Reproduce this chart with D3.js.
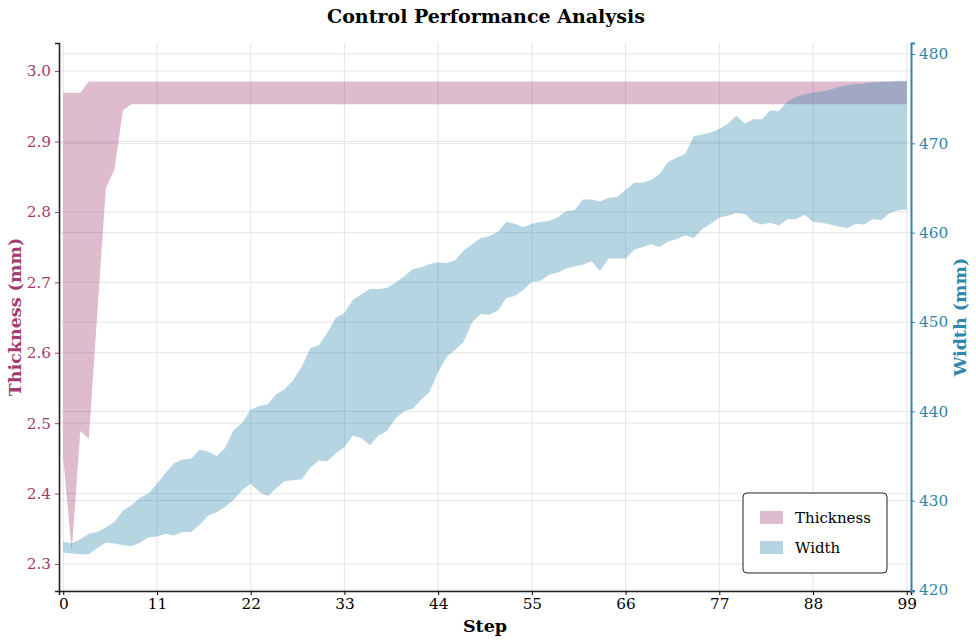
<!DOCTYPE html>
<html>
<head>
<meta charset="utf-8">
<script src="https://cdn.jsdelivr.net/npm/d3@7"></script>
<style>
  html, body { margin: 0; padding: 0; background: #fff; }
  svg { display: block; font-family: "DejaVu Serif", serif; }
</style>
</head>
<body>
<div id="chart"></div>
<script>
// values
var steps = d3.range(100);

var thicknessLow = [
  2.45, 2.318, 2.489, 2.478, 2.657, 2.834, 2.86, 2.944, 2.953, 2.953,
  2.953, 2.953, 2.953, 2.953, 2.953, 2.953, 2.953, 2.953, 2.953, 2.953,
  2.953, 2.953, 2.953, 2.953, 2.953, 2.953, 2.953, 2.953, 2.953, 2.953,
  2.953, 2.953, 2.953, 2.953, 2.953, 2.953, 2.953, 2.953, 2.953, 2.953,
  2.953, 2.953, 2.953, 2.953, 2.953, 2.953, 2.953, 2.953, 2.953, 2.953,
  2.953, 2.953, 2.953, 2.953, 2.953, 2.953, 2.953, 2.953, 2.953, 2.953,
  2.953, 2.953, 2.953, 2.953, 2.953, 2.953, 2.953, 2.953, 2.953, 2.953,
  2.953, 2.953, 2.953, 2.953, 2.953, 2.953, 2.953, 2.953, 2.953, 2.953,
  2.953, 2.953, 2.953, 2.953, 2.953, 2.953, 2.953, 2.953, 2.953, 2.953,
  2.953, 2.953, 2.953, 2.953, 2.953, 2.953, 2.953, 2.953, 2.953, 2.953
];
var thicknessHigh = [
  2.969, 2.969, 2.969, 2.985, 2.985, 2.985, 2.985, 2.985, 2.985, 2.985,
  2.985, 2.985, 2.985, 2.985, 2.985, 2.985, 2.985, 2.985, 2.985, 2.985,
  2.985, 2.985, 2.985, 2.985, 2.985, 2.985, 2.985, 2.985, 2.985, 2.985,
  2.985, 2.985, 2.985, 2.985, 2.985, 2.985, 2.985, 2.985, 2.985, 2.985,
  2.985, 2.985, 2.985, 2.985, 2.985, 2.985, 2.985, 2.985, 2.985, 2.985,
  2.985, 2.985, 2.985, 2.985, 2.985, 2.985, 2.985, 2.985, 2.985, 2.985,
  2.985, 2.985, 2.985, 2.985, 2.985, 2.985, 2.985, 2.985, 2.985, 2.985,
  2.985, 2.985, 2.985, 2.985, 2.985, 2.985, 2.985, 2.985, 2.985, 2.985,
  2.985, 2.985, 2.985, 2.985, 2.985, 2.985, 2.985, 2.985, 2.985, 2.985,
  2.985, 2.985, 2.985, 2.985, 2.985, 2.985, 2.985, 2.985, 2.985, 2.985
];

var widthLow = [
  424.2, 424.1, 424.0, 424.0, 424.7, 425.3, 425.2, 425.0, 424.9, 425.3,
  425.9, 426.0, 426.3, 426.1, 426.5, 426.5, 427.3, 428.3, 428.7, 429.3,
  430.1, 431.2, 431.9, 431.0, 430.5, 431.4, 432.2, 432.3, 432.4, 433.7,
  434.5, 434.4, 435.3, 436.0, 437.3, 437.0, 436.2, 437.3, 437.8, 439.2,
  440.0, 440.3, 441.3, 442.2, 444.4, 446.1, 446.9, 447.8, 450.0, 450.9,
  450.8, 451.3, 452.7, 452.9, 453.6, 454.5, 454.6, 455.3, 455.5, 456.0,
  456.2, 456.4, 456.8, 455.7, 457.1, 457.1, 457.1, 458.1, 458.4, 458.7,
  458.4, 459.0, 459.3, 459.7, 459.4, 460.4, 461.0, 461.7, 461.9, 462.2,
  462.1, 461.2, 460.9, 461.1, 460.8, 461.5, 461.5, 462.0, 461.2, 461.1,
  460.9, 460.7, 460.5, 461.0, 460.9, 461.5, 461.4, 462.2, 462.5, 462.6
];
var widthHigh = [
  425.4, 425.2, 425.7, 426.3, 426.5, 427.0, 427.6, 428.9, 429.5, 430.3,
  430.8, 431.9, 433.1, 434.2, 434.6, 434.7, 435.7, 435.5, 435.0, 435.9,
  437.9, 438.7, 440.2, 440.6, 440.8, 441.9, 442.5, 443.5, 445.0, 447.1,
  447.4, 448.8, 450.5, 451.0, 452.5, 453.1, 453.7, 453.7, 453.8, 454.4,
  455.1, 455.9, 456.1, 456.5, 456.7, 456.6, 456.9, 458.0, 458.7, 459.4,
  459.6, 460.1, 461.2, 461.0, 460.6, 461.0, 461.2, 461.3, 461.7, 462.4,
  462.5, 463.7, 463.7, 463.5, 463.9, 464.0, 464.8, 465.6, 465.6, 465.9,
  466.6, 467.9, 468.4, 468.8, 470.8, 471.0, 471.2, 471.6, 472.2, 473.1,
  472.2, 472.7, 472.7, 473.7, 473.6, 474.7, 475.2, 475.5, 475.7, 475.8,
  476.0, 476.3, 476.5, 476.6, 476.7, 476.8, 476.9, 476.9, 477.0, 477.0
];

var xTicks = [0, 11, 22, 33, 44, 55, 66, 77, 88, 99];
var thicknessTicks = [2.3, 2.4, 2.5, 2.6, 2.7, 2.8, 2.9, 3.0];
var widthTicks = [420, 430, 440, 450, 460, 470, 480];
var seriesNames = ['Thickness', 'Width'];

var pink = '#A23B72';
var blue = '#2E86AB';

var W = 976, H = 642;
var plot = { left: 59, right: 911, top: 43, bottom: 591 };

var svg = d3.select('#chart').append('svg')
    .attr('width', W)
    .attr('height', H);

var x = d3.scaleLinear().domain([-0.5, 99.5]).range([plot.left, plot.right]);
var yT = d3.scaleLinear().domain([2.2617, 3.0398]).range([plot.bottom, plot.top]);
var yW = d3.scaleLinear().domain([419.89, 481.23]).range([plot.bottom, plot.top]);

// grid lines (both y axes draw their own)
var grid = svg.append('g').attr('stroke', '#e4e4e4').attr('stroke-width', 1);
xTicks.forEach(function (t) {
  grid.append('line')
      .attr('x1', x(t)).attr('x2', x(t))
      .attr('y1', plot.top).attr('y2', plot.bottom);
});
thicknessTicks.forEach(function (t) {
  grid.append('line')
      .attr('x1', plot.left).attr('x2', plot.right)
      .attr('y1', yT(t)).attr('y2', yT(t));
});
widthTicks.forEach(function (t) {
  grid.append('line')
      .attr('x1', plot.left).attr('x2', plot.right)
      .attr('y1', yW(t)).attr('y2', yW(t));
});

// bands
var thicknessArea = d3.area()
    .x(function (i) { return x(i); })
    .y0(function (i) { return yT(thicknessLow[i]); })
    .y1(function (i) { return yT(thicknessHigh[i]); });

var widthArea = d3.area()
    .x(function (i) { return x(i); })
    .y0(function (i) { return yW(widthLow[i]); })
    .y1(function (i) { return yW(widthHigh[i]); });

svg.append('path')
    .datum(steps)
    .attr('d', thicknessArea)
    .attr('fill', pink)
    .attr('fill-opacity', 0.35);

svg.append('path')
    .datum(steps)
    .attr('d', widthArea)
    .attr('fill', blue)
    .attr('fill-opacity', 0.35);

// axes
var tickFont = '15.3px';

var xAxis = svg.append('g')
    .attr('transform', 'translate(0,' + plot.bottom + ')')
    .call(d3.axisBottom(x).tickValues(xTicks).tickSize(4).tickPadding(3).tickFormat(d3.format('d')));
xAxis.select('.domain').attr('stroke', '#222').attr('stroke-width', 1.6);
xAxis.selectAll('text').attr('font-size', tickFont).attr('fill', '#000').attr('font-family', 'DejaVu Serif');

var leftAxis = svg.append('g')
    .attr('transform', 'translate(' + plot.left + ',0)')
    .call(d3.axisLeft(yT).tickValues(thicknessTicks).tickSize(4).tickPadding(4).tickFormat(d3.format('.1f')));
leftAxis.select('.domain').attr('stroke', '#222').attr('stroke-width', 1.6);
leftAxis.selectAll('.tick line').attr('stroke', pink);
leftAxis.selectAll('text').attr('font-size', tickFont).attr('fill', pink).attr('font-family', 'DejaVu Serif');

var rightAxis = svg.append('g')
    .attr('transform', 'translate(' + plot.right + ',0)')
    .call(d3.axisRight(yW).tickValues(widthTicks).tickSize(4).tickPadding(4).tickFormat(d3.format('d')));
rightAxis.select('.domain').attr('stroke', blue).attr('stroke-width', 2);
rightAxis.selectAll('.tick line').attr('stroke', blue);
rightAxis.selectAll('text').attr('font-size', tickFont).attr('fill', blue).attr('font-family', 'DejaVu Serif');

// titles
svg.append('text')
    .attr('x', (plot.left + plot.right) / 2 + 1)
    .attr('y', 23)
    .attr('text-anchor', 'middle')
    .attr('font-size', '19px')
    .attr('font-weight', 'bold')
    .text('Control Performance Analysis');

svg.append('text')
    .attr('x', (plot.left + plot.right) / 2)
    .attr('y', 632)
    .attr('text-anchor', 'middle')
    .attr('font-size', '17.5px')
    .attr('font-weight', 'bold')
    .text('Step');

svg.append('text')
    .attr('transform', 'translate(21,' + (plot.top + plot.bottom) / 2 + ') rotate(-90)')
    .attr('text-anchor', 'middle')
    .attr('font-size', '17.5px')
    .attr('font-weight', 'bold')
    .attr('fill', pink)
    .text('Thickness (mm)');

svg.append('text')
    .attr('transform', 'translate(966,' + (plot.top + plot.bottom) / 2 + ') rotate(-90)')
    .attr('text-anchor', 'middle')
    .attr('font-size', '17.5px')
    .attr('font-weight', 'bold')
    .attr('fill', blue)
    .text('Width (mm)');

// legend
var legend = svg.append('g').attr('transform', 'translate(743,493)');
legend.append('rect')
    .attr('width', 144).attr('height', 80)
    .attr('rx', 4).attr('ry', 4)
    .attr('fill', '#fff')
    .attr('stroke', '#222')
    .attr('stroke-width', 1);

[pink, blue].forEach(function (c, i) {
  var row = legend.append('g').attr('transform', 'translate(17,' + (18 + i * 30) + ')');
  row.append('rect')
      .attr('width', 23).attr('height', 13)
      .attr('fill', c).attr('fill-opacity', 0.35);
  row.append('text')
      .attr('x', 35).attr('y', 12)
      .attr('font-size', '15px')
      .text(seriesNames[i]);
});
</script>
</body>
</html>
